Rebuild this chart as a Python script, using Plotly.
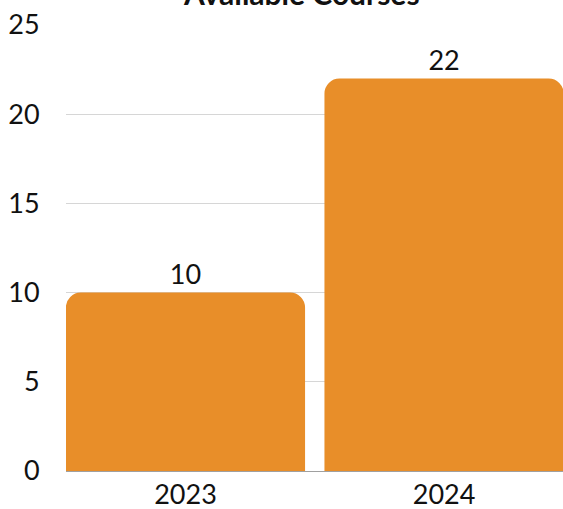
import plotly.graph_objects as go

years = ["2023", "2024"]
courses = [10, 22]
title_text = "Available Courses"
y_ticks = [0, 5, 10, 15, 20, 25]

FONT = "Lato"

fig = go.Figure(
    go.Bar(
        x=years,
        y=courses,
        text=[str(v) for v in courses],
        textposition="outside",
        textfont=dict(family=FONT, size=27, color="#111111"),
        marker=dict(color="#E88E29", cornerradius=15, line=dict(width=0)),
        cliponaxis=False,
    )
)

fig.update_layout(
    width=563,
    height=509,
    margin=dict(l=66, r=0, t=25, b=38, autoexpand=False),
    paper_bgcolor="white",
    plot_bgcolor="white",
    bargap=0.075,
    showlegend=False,
    font=dict(family=FONT, size=27, color="#111111"),
    annotations=[
        dict(
            text="<b>" + title_text + "</b>",
            xref="paper",
            yref="paper",
            x=0.473,
            y=1.0,
            yshift=12,
            xanchor="center",
            yanchor="bottom",
            showarrow=False,
            font=dict(family=FONT, size=30, color="#111111"),
        )
    ],
)

fig.update_xaxes(
    type="category",
    range=[-0.462, 1.46],
    automargin=False,
    showgrid=False,
    showline=True,
    linecolor="#a0a0a0",
    linewidth=1,
    ticks="",
    tickfont=dict(family=FONT, size=27, color="#111111"),
)

fig.update_yaxes(
    range=[0, 25],
    tickvals=y_ticks,
    automargin=False,
    showgrid=True,
    gridcolor="#d6d6d6",
    gridwidth=1,
    zeroline=False,
    showline=False,
    ticks="outside",
    ticklen=20,
    tickcolor="rgba(0,0,0,0)",
    tickfont=dict(family=FONT, size=27, color="#111111"),
)

fig.write_html(
    "out.html",
    config={"displayModeBar": False},
    post_script="document.body.style.margin='0';document.body.style.overflow='hidden';",
)
